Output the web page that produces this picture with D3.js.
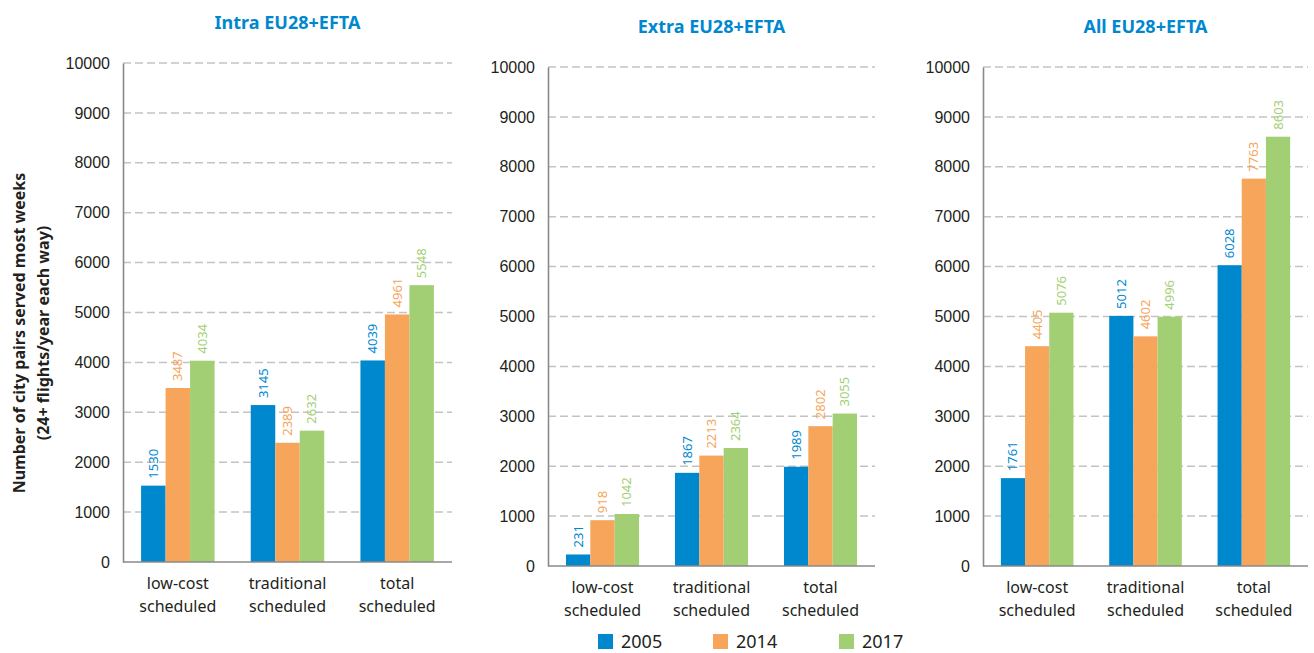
<!DOCTYPE html>
<html>
<head>
<meta charset="utf-8">
<script src="https://cdn.jsdelivr.net/npm/d3@7"></script>
<style>
  body { margin: 0; background: #fff; }
  svg { display: block; font-family: "Noto Sans", sans-serif; }
</style>
</head>
<body>
<script>
// chart data
const categories = ['low-cost scheduled', 'traditional scheduled', 'total scheduled'];
const years = ['2005', '2014', '2017'];
const panelTitles = ['Intra EU28+EFTA', 'Extra EU28+EFTA', 'All EU28+EFTA'];
const intraValues = [[1530, 3487, 4034], [3145, 2389, 2632], [4039, 4961, 5548]];
const extraValues = [[231, 918, 1042], [1867, 2213, 2364], [1989, 2802, 3055]];
const allValues = [[1761, 4405, 5076], [5012, 4602, 4996], [6028, 7763, 8603]];
const yTicks = [0, 1000, 2000, 3000, 4000, 5000, 6000, 7000, 8000, 9000, 10000];

const colors = { '2005': '#0088cf', '2014': '#f6a55b', '2017': '#a3cf74' };

const W = 1314, H = 653;
const svg = d3.select('body').append('svg').attr('width', W).attr('height', H);

// panel frames (plot area in pixels)
const panels = [
  { title: panelTitles[0], values: intraValues, left: 123, right: 452, top: 63, bottom: 562 },
  { title: panelTitles[1], values: extraValues, left: 548, right: 875, top: 67, bottom: 566 },
  { title: panelTitles[2], values: allValues, left: 983, right: 1308, top: 67, bottom: 566 }
];

panels.forEach((p) => {
  const g = svg.append('g');

  const y = d3.scaleLinear().domain([0, 10000]).range([p.bottom, p.top]);
  const x = d3.scaleBand().domain(categories).range([p.left, p.right])
    .paddingInner(0.33).paddingOuter(0.165);
  const xs = d3.scaleBand().domain(years).range([0, x.bandwidth()]);

  // gridlines
  g.append('g').selectAll('line')
    .data(yTicks.filter((d) => d > 0))
    .join('line')
    .attr('x1', p.left).attr('x2', p.right)
    .attr('y1', (d) => y(d)).attr('y2', (d) => y(d))
    .attr('stroke', '#c3c3c3').attr('stroke-width', 1.5)
    .attr('stroke-dasharray', '8,4');

  // y axis
  const yAxis = g.append('g')
    .attr('transform', `translate(${p.left},0)`)
    .call(d3.axisLeft(y).tickValues(yTicks).tickFormat(d3.format('d')).tickSize(0).tickPadding(13));
  yAxis.select('.domain').attr('stroke', '#8a8a8a').attr('stroke-width', 1.6);
  yAxis.selectAll('text').attr('font-size', 16).attr('fill', '#231f20');

  // bars
  const groups = g.append('g').selectAll('g')
    .data(categories)
    .join('g')
    .attr('transform', (c) => `translate(${x(c)},0)`);

  groups.selectAll('rect')
    .data((c, i) => years.map((yr, j) => ({ year: yr, value: p.values[i][j] })))
    .join('rect')
    .attr('x', (d) => xs(d.year))
    .attr('width', xs.bandwidth())
    .attr('y', (d) => y(d.value))
    .attr('height', (d) => y(0) - y(d.value))
    .attr('fill', (d) => colors[d.year]);

  groups.selectAll('text.val')
    .data((c, i) => years.map((yr, j) => ({ year: yr, value: p.values[i][j] })))
    .join('text')
    .attr('class', 'val')
    .attr('transform', (d) => `translate(${xs(d.year) + xs.bandwidth() / 2 + 4.5},${y(d.value) - 7}) rotate(-90)`)
    .attr('font-size', 13)
    .attr('fill', (d) => colors[d.year])
    .text((d) => d.value);

  // x axis baseline
  g.append('line')
    .attr('x1', p.left).attr('x2', p.right)
    .attr('y1', y(0)).attr('y2', y(0))
    .attr('stroke', '#8a8a8a').attr('stroke-width', 1.6);

  // category labels on two lines
  const cat = g.append('g').selectAll('text')
    .data(categories)
    .join('text')
    .attr('x', (c) => x(c) + x.bandwidth() / 2)
    .attr('y', y(0) + 27)
    .attr('text-anchor', 'middle')
    .attr('font-size', 16)
    .attr('fill', '#231f20');
  cat.each(function (c) {
    const words = c.split(' ');
    const t = d3.select(this);
    t.append('tspan').attr('x', x(c) + x.bandwidth() / 2).text(words[0]);
    t.append('tspan').attr('x', x(c) + x.bandwidth() / 2).attr('dy', 23).text(words[1]);
  });

  // panel title
  g.append('text')
    .attr('x', (p.left + p.right) / 2)
    .attr('y', p.top - 34)
    .attr('text-anchor', 'middle')
    .attr('font-size', 18)
    .attr('font-weight', 'bold')
    .attr('fill', '#0088cf')
    .text(p.title);
});

// y axis title
const yTitle = svg.append('text')
  .attr('transform', 'translate(25,333) rotate(-90)')
  .attr('text-anchor', 'middle')
  .attr('font-size', 16)
  .attr('font-weight', 'bold')
  .attr('fill', '#231f20');
yTitle.append('tspan').attr('x', 0).text('Number of city pairs served most weeks');
yTitle.append('tspan').attr('x', 0).attr('dy', 24).text('(24+ flights/year each way)');

// legend
const legendX = [598, 713, 839];
const legend = svg.append('g').selectAll('g')
  .data(years)
  .join('g')
  .attr('transform', (d, i) => `translate(${legendX[i]},634)`);
legend.append('rect').attr('width', 15).attr('height', 15).attr('fill', (d) => colors[d]);
legend.append('text').attr('x', 23).attr('y', 14).attr('font-size', 18).attr('fill', '#231f20').text((d) => d);
</script>
</body>
</html>
